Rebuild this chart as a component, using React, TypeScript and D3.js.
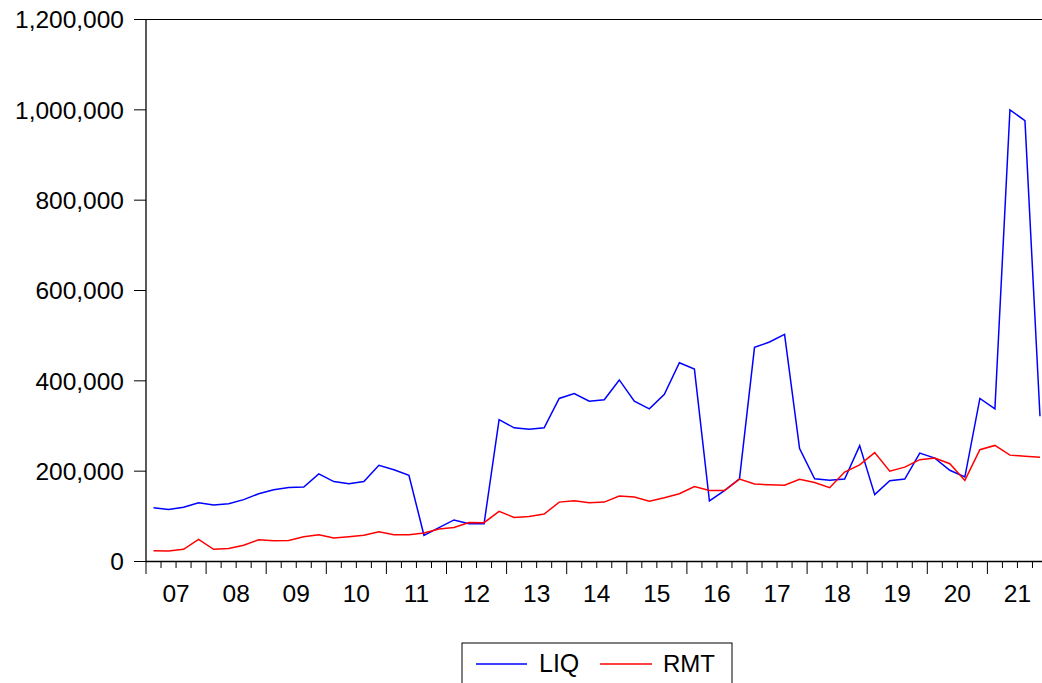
import React from "react";
import * as d3 from "d3";

const years = ["07","08","09","10","11","12","13","14","15","16","17","18","19","20","21"];
const yTicks = [0, 200000, 400000, 600000, 800000, 1000000, 1200000];
const liq = [
  119000,115000,120000,130000, 125000,128000,137000,150000, 159000,164000,165000,194000,
  177000,172000,177000,213000, 203000,191000,58000,75000, 92000,83500,83500,314000,
  296000,293000,296000,361000, 372000,355000,358000,402000, 355000,338000,370000,440000,
  426000,134000,157000,183000, 474000,486000,503000,250000, 183000,180000,182500,256500,
  148000,179000,182500,240000, 229000,202000,187000,361000, 338000,1000000,976000,321500
];
const rmt = [
  23700,23000,27000,48800, 27000,29000,36000,48000, 46000,46500,55000,59000,
  52000,55000,58000,66000, 59000,59000,63000,72000, 75400,86500,86000,111000,
  97600,99800,105000,131500, 134500,130000,131500,145000, 142600,133700,141000,150000,
  166000,157000,157000,182500, 171500,170000,169000,182000, 175000,163500,198000,214000,
  241000,200000,209000,225500, 229000,216500,179500,247500, 257000,235500,233000,231000
];
const seriesNames = ["LIQ", "RMT"];
const seriesColors = ["#0000ff", "#ff0000"];

export default function App() {
  const W = 1042, H = 683;
  const left = 146, top = 19.5, bottom = 561.5;
  const nQ = years.length * 4;
  const x = d3.scaleLinear().domain([0, nQ]).range([left, left + 60.1 * years.length]);
  const y = d3.scaleLinear().domain([0, 1200000]).range([bottom, top]);
  const line = d3.line<number>().x((_, i) => x(i + 0.5)).y((d) => y(d));
  const fmt = d3.format(",");
  const font = "'Liberation Sans', Arial, sans-serif";
  const quarterTicks = d3.range(0, nQ + 1);
  return (
    <svg width={W} height={H} style={{ position: "absolute", left: 0, top: 0, background: "#fff" }}>
      <rect x={0} y={0} width={W} height={H} fill="#fff" />
      {/* frame */}
      <line x1={left} y1={top} x2={W} y2={top} stroke="#000" strokeWidth={1} />
      <line x1={left} y1={top} x2={left} y2={bottom} stroke="#000" strokeWidth={1.3} />
      <line x1={left} y1={bottom} x2={W} y2={bottom} stroke="#000" strokeWidth={1.3} />
      {/* y ticks */}
      {yTicks.map((t) => (
        <g key={t}>
          <line x1={left - 12} x2={left} y1={y(t)} y2={y(t)} stroke="#000" strokeWidth={1} />
          <text x={124} y={y(t)} dy="0.36em" textAnchor="end" fontFamily={font} fontSize={24.5} fill="#000">
            {fmt(t)}
          </text>
        </g>
      ))}
      {/* x ticks */}
      {quarterTicks.map((q) => (
        <line key={q} x1={x(q)} x2={x(q)} y1={bottom} y2={bottom + (q % 4 === 0 ? 12.5 : 6.5)} stroke="#000" strokeWidth={1} />
      ))}
      {years.map((yr, i) => (
        <text key={yr} x={x(i * 4 + 2)} y={601.5} textAnchor="middle" fontFamily={font} fontSize={24.5} fill="#000">
          {yr}
        </text>
      ))}
      {/* series */}
      <path d={line(liq) || ""} fill="none" stroke={seriesColors[0]} strokeWidth={1.5} />
      <path d={line(rmt) || ""} fill="none" stroke={seriesColors[1]} strokeWidth={1.5} />
      {/* legend */}
      <rect x={462} y={643} width={270} height={60} fill="#fff" stroke="#000" strokeWidth={1} />
      <line x1={476} x2={527} y1={664} y2={664} stroke={seriesColors[0]} strokeWidth={1.5} />
      <text x={539} y={671.5} fontFamily={font} fontSize={25} fill="#000">{seriesNames[0]}</text>
      <line x1={600} x2={652} y1={664} y2={664} stroke={seriesColors[1]} strokeWidth={1.5} />
      <text x={663} y={671.5} fontFamily={font} fontSize={24} fill="#000">{seriesNames[1]}</text>
    </svg>
  );
}
